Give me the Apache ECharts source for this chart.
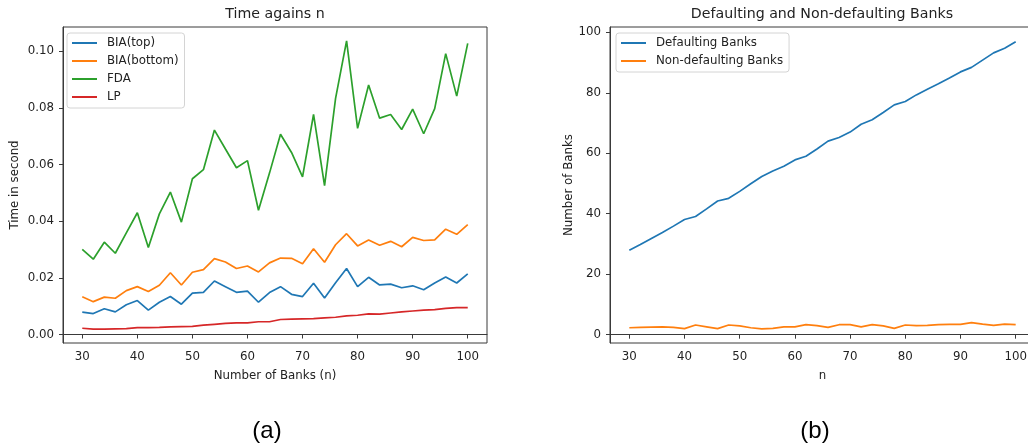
<!DOCTYPE html>
<html>
<head>
<meta charset="utf-8">
<script src="https://cdn.jsdelivr.net/npm/echarts@6/dist/echarts.min.js"></script>
<style>
  html, body { margin: 0; padding: 0; background: #fff; overflow: hidden; }
  /* canvas is a little wider than the window so the right panel's frame runs off the edge */
  #chart { width: 1040px; height: 448px; }
</style>
</head>
<body>
<div id="chart"></div>
<script>
// Problem sizes (number of banks)
const nValues = [30, 32, 34, 36, 38, 40, 42, 44, 46, 48, 50, 52, 54, 56, 58, 60, 62, 64,
                 66, 68, 70, 72, 74, 76, 78, 80, 82, 84, 86, 88, 90, 92, 94, 96, 98, 100];

// (a) running time in seconds
const biaTop = [0.0079, 0.0074, 0.0091, 0.0080, 0.0105, 0.0120, 0.0086, 0.0114, 0.0134, 0.0107,
                0.0146, 0.0149, 0.0189, 0.0169, 0.0149, 0.0153, 0.0114, 0.0148, 0.0169, 0.0142,
                0.0134, 0.0181, 0.0129, 0.0183, 0.0233, 0.0169, 0.0202, 0.0175, 0.0178, 0.0165,
                0.0172, 0.0158, 0.0182, 0.0203, 0.0182, 0.0214];
const biaBottom = [0.0133, 0.0116, 0.0132, 0.0128, 0.0155, 0.0169, 0.0152, 0.0174, 0.0218, 0.0175,
                   0.0220, 0.0229, 0.0268, 0.0256, 0.0233, 0.0242, 0.0221, 0.0253, 0.0270, 0.0269,
                   0.0250, 0.0303, 0.0255, 0.0317, 0.0356, 0.0313, 0.0334, 0.0315, 0.0329, 0.0310,
                   0.0343, 0.0332, 0.0334, 0.0372, 0.0354, 0.0388];
const fda = [0.0301, 0.0266, 0.0326, 0.0287, 0.0359, 0.0430, 0.0307, 0.0426, 0.0503, 0.0397,
             0.0550, 0.0582, 0.0722, 0.0655, 0.0589, 0.0614, 0.0439, 0.0570, 0.0707, 0.0643,
             0.0557, 0.0777, 0.0526, 0.0834, 0.1037, 0.0728, 0.0881, 0.0764, 0.0777, 0.0724,
             0.0796, 0.0709, 0.0798, 0.0992, 0.0842, 0.1028];
const lp = [0.0022, 0.0019, 0.0019, 0.0020, 0.0021, 0.0024, 0.0024, 0.0025, 0.0027, 0.0028,
            0.0029, 0.0033, 0.0036, 0.0039, 0.0041, 0.0041, 0.0045, 0.0045, 0.0053, 0.0054,
            0.0055, 0.0056, 0.0059, 0.0061, 0.0066, 0.0068, 0.0073, 0.0072, 0.0076, 0.0080,
            0.0083, 0.0086, 0.0088, 0.0092, 0.0095, 0.0095];

// (b) bank counts
const defaulting = [27.9, 29.8, 31.8, 33.8, 35.9, 38.1, 39.1, 41.6, 44.2, 45.1, 47.4, 49.9,
                    52.3, 54.1, 55.7, 57.8, 59.0, 61.4, 64.0, 65.2, 67.0, 69.6, 71.1, 73.5,
                    76.0, 77.1, 79.3, 81.2, 83.0, 84.9, 86.9, 88.4, 90.8, 93.2, 94.7, 96.9];
const nonDefaulting = [2.3, 2.4, 2.5, 2.6, 2.4, 2.0, 3.2, 2.6, 2.0, 3.2, 2.9, 2.3,
                       1.9, 2.1, 2.6, 2.6, 3.3, 3.0, 2.4, 3.3, 3.3, 2.6, 3.3, 2.9,
                       2.1, 3.2, 3.0, 3.1, 3.3, 3.4, 3.4, 4.0, 3.5, 3.1, 3.5, 3.3];

// Tick labels
const xTicks = [30, 40, 50, 60, 70, 80, 90, 100];
const timeTicks = [0.00, 0.02, 0.04, 0.06, 0.08, 0.10];
const bankTicks = [0, 20, 40, 60, 80, 100];

const FONT = '"DejaVu Sans", sans-serif';
const TXT = '#222';
const SPINE = '#3a3a3a';
const FS = 11.8;

// legend key: a short horizontal stroke centred in a 25x14 box
// (tiny corner specks pin the path's bounds to the full box)
const LINE_ICON = 'path://M0,0L0.01,0L0,0.01Z M25,14L24.99,14L25,13.99Z M0,6.1L25,6.1L25,7.9L0,7.9Z';

const pairs = (ys) => nValues.map((n, i) => [n, ys[i]]);

function lineSeries(name, ys, color, idx) {
  return {
    name, type: 'line', data: pairs(ys),
    xAxisIndex: idx, yAxisIndex: idx,
    symbol: 'none', showSymbol: false, smooth: false,
    lineStyle: { color, width: 1.7 }, itemStyle: { color },
    emphasis: { disabled: true }, animation: false
  };
}

function xAxis(idx, name) {
  return {
    gridIndex: idx, type: 'value', min: 26.5, max: 103.5,
    name, nameLocation: 'middle', nameGap: 27,
    nameTextStyle: { fontFamily: FONT, fontSize: FS, color: TXT },
    axisLine: { show: true, lineStyle: { color: SPINE, width: 1 } },
    axisTick: { show: true, length: 4, customValues: xTicks, lineStyle: { color: SPINE } },
    axisLabel: { customValues: xTicks, margin: 8, fontFamily: FONT, fontSize: FS, color: TXT },
    splitLine: { show: false }
  };
}

function yAxis(idx, name, min, max, ticks, fmt, gap, margin) {
  return {
    gridIndex: idx, type: 'value', min, max,
    name, nameLocation: 'middle', nameGap: gap, nameRotate: 90,
    nameTextStyle: { fontFamily: FONT, fontSize: FS, color: TXT },
    axisLine: { show: true, lineStyle: { color: SPINE, width: 1 } },
    axisTick: { show: true, length: 4, customValues: ticks, lineStyle: { color: SPINE } },
    axisLabel: { customValues: ticks, margin, formatter: fmt, fontFamily: FONT, fontSize: FS, color: TXT },
    splitLine: { show: false }
  };
}

function legend(left, names) {
  return {
    left, top: 33, orient: 'vertical',
    icon: LINE_ICON,
    itemWidth: 25, itemHeight: 14, itemGap: 4,
    padding: [3, 6, 4, 5],
    backgroundColor: '#fff', borderColor: '#d4d4d4', borderWidth: 1, borderRadius: 3,
    textStyle: { fontFamily: FONT, fontSize: FS, color: TXT, padding: [0, 0, 0, 5] },
    selectedMode: false,
    data: names
  };
}

const chart = echarts.init(document.getElementById('chart'), null, { renderer: 'canvas' });
chart.setOption({
  backgroundColor: '#fff',
  animation: false,
  grid: [
    { left: 63, top: 27, width: 424, height: 316, show: true, borderColor: SPINE, borderWidth: 1, backgroundColor: 'transparent' },
    { left: 610, top: 27, width: 425, height: 316, show: true, borderColor: SPINE, borderWidth: 1, backgroundColor: 'transparent' }
  ],
  xAxis: [xAxis(0, 'Number of Banks (n)'), xAxis(1, 'n')],
  yAxis: [
    yAxis(0, 'Time in second', -0.003, 0.1086, timeTicks, (v) => v.toFixed(2), 42, 9),
    yAxis(1, 'Number of Banks', -2.75, 101.75, bankTicks, (v) => String(Math.round(v)), 35, 9)
  ],
  legend: [
    legend(67, ['BIA(top)', 'BIA(bottom)', 'FDA', 'LP']),
    legend(616, ['Defaulting Banks', 'Non-defaulting Banks'])
  ],
  series: [
    lineSeries('BIA(top)', biaTop, '#1f77b4', 0),
    lineSeries('BIA(bottom)', biaBottom, '#ff7f0e', 0),
    lineSeries('FDA', fda, '#2ca02c', 0),
    lineSeries('LP', lp, '#d62728', 0),
    lineSeries('Defaulting Banks', defaulting, '#1f77b4', 1),
    lineSeries('Non-defaulting Banks', nonDefaulting, '#ff7f0e', 1)
  ],
  graphic: [
    { type: 'text', x: 275, y: 14, style: { text: 'Time agains n', fontFamily: FONT, fontSize: 14.2, fill: TXT, align: 'center', verticalAlign: 'middle' } },
    { type: 'text', x: 822, y: 14, style: { text: 'Defaulting and Non-defaulting Banks', fontFamily: FONT, fontSize: 14.2, fill: TXT, align: 'center', verticalAlign: 'middle' } },
    { type: 'text', x: 267, y: 431, style: { text: '(a)', fontFamily: '"Liberation Sans", Arial, sans-serif', fontSize: 24, fill: '#000', align: 'center', verticalAlign: 'middle' } },
    { type: 'text', x: 815, y: 431, style: { text: '(b)', fontFamily: '"Liberation Sans", Arial, sans-serif', fontSize: 24, fill: '#000', align: 'center', verticalAlign: 'middle' } }
  ]
});
</script>
</body>
</html>
